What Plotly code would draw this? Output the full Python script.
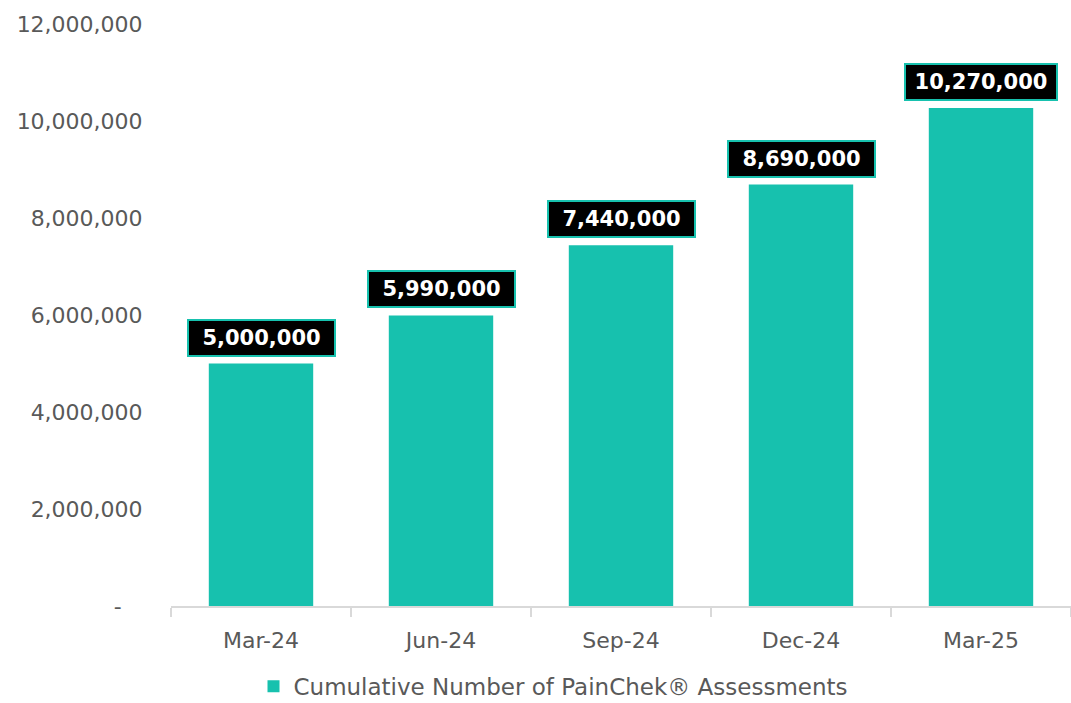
import plotly.graph_objects as go

categories = ["Mar-24", "Jun-24", "Sep-24", "Dec-24", "Mar-25"]
values = [5000000, 5990000, 7440000, 8690000, 10270000]
label_texts = ["5,000,000", "5,990,000", "7,440,000", "8,690,000", "10,270,000"]
y_tickvals = [0, 2000000, 4000000, 6000000, 8000000, 10000000, 12000000]
y_ticktext = ["-   ", "2,000,000", "4,000,000", "6,000,000", "8,000,000", "10,000,000", "12,000,000"]
series_name = "Cumulative Number of PainChek® Assessments"

TEAL = "#17C1AE"
FONT = "DejaVu Sans"
GREY = "#595959"

fig = go.Figure()
fig.add_trace(go.Bar(
    x=categories, y=values, name=series_name,
    marker=dict(color=TEAL, line=dict(width=0)),
    width=0.58,
))

for c, v, t in zip(categories, values, label_texts):
    fig.add_annotation(
        x=c, y=v, text="<b>" + t + "</b>", showarrow=False,
        yanchor="bottom", yshift=7,
        width=139 if len(t) < 10 else 144, height=28,
        font=dict(family=FONT, size=21, color="white"),
        bgcolor="black", bordercolor=TEAL, borderwidth=2, borderpad=3,
    )

fig.update_layout(
    width=1071, height=703,
    margin=dict(l=171, r=0, t=24, b=97, autoexpand=False),
    paper_bgcolor="white", plot_bgcolor="white",
    font=dict(family=FONT, color=GREY, size=20),
    showlegend=True,
    legend=dict(orientation="h", x=0.425, xanchor="center", y=-0.138, yanchor="middle",
                font=dict(family=FONT, size=23, color=GREY), itemsizing="constant",
                itemwidth=30),
)
fig.update_xaxes(
    type="category", showline=True, linecolor="#D9D9D9", linewidth=2,
    ticks="outside", tickson="boundaries", ticklen=9, tickcolor="#D9D9D9", tickwidth=2,
    ticklabelstandoff=14,
    tickfont=dict(family=FONT, size=22, color=GREY), showgrid=False,
)
fig.update_yaxes(
    range=[0, 12000000], tickvals=y_tickvals, ticktext=y_ticktext,
    showgrid=False, zeroline=False, showline=False, ticks="outside", ticklen=23, tickcolor="rgba(0,0,0,0)",
    tickfont=dict(family=FONT, size=22, color=GREY),
)

fig.write_html("out.html")
